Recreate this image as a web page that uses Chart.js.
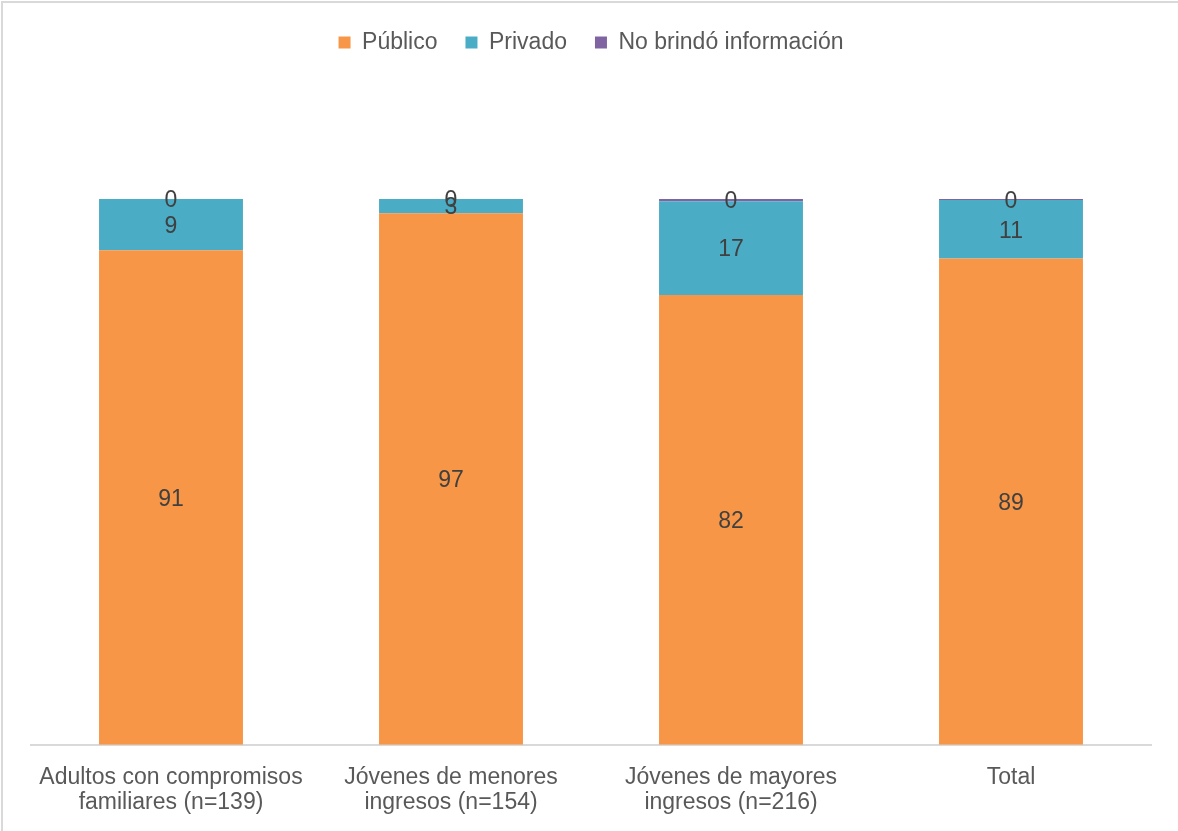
<!DOCTYPE html>
<html>
<head>
<meta charset="utf-8">
<script src="https://cdn.jsdelivr.net/npm/chart.js@4/dist/chart.umd.min.js"></script>
<style>
    body { margin: 0; background: #fff; }
    #frame {
        position: absolute; left: 1px; top: 1px;
        border-left: 2px solid #d9d9d9; border-top: 2px solid #d9d9d9;
    }
    canvas { display: block; }
</style>
</head>
<body>
<div id="frame"><canvas id="chart" width="1175" height="828"></canvas></div>
<script>
const categories = [
    ['Adultos con compromisos', 'familiares (n=139)'],
    ['Jóvenes de menores', 'ingresos (n=154)'],
    ['Jóvenes de mayores', 'ingresos (n=216)'],
    'Total'
];
const publico = [90.6, 97.4, 82.4, 89.1];
const privado = [9.4, 2.6, 17.2, 10.7];
const no_info = [0.0, 0.0, 0.4, 0.2];

const font_family = '"Liberation Sans", Arial, sans-serif';

/**
 * Writes the rounded value in the middle of every bar segment.
 */
const segment_labels = {
    id: 'segment_labels',
    afterDatasetsDraw(chart) {
        const ctx = chart.ctx;
        ctx.save();
        ctx.font = '23px ' + font_family;
        ctx.fillStyle = '#404040';
        ctx.textAlign = 'center';
        ctx.textBaseline = 'middle';
        chart.data.datasets.forEach((ds, i) => {
            chart.getDatasetMeta(i).data.forEach((bar, j) => {
                const p = bar.getCenterPoint();
                ctx.fillText(Math.round(ds.data[j]), p.x, p.y + 2);
            });
        });
        ctx.restore();
    }
};

/**
 * Leaves the empty band between the legend and the bars.
 */
const legend_gap = {
    id: 'legend_gap',
    beforeInit(chart) {
        const fit = chart.legend.fit;
        chart.legend.fit = function () {
            fit.bind(chart.legend)();
            this.height += 135;
        };
    }
};

new Chart(document.getElementById('chart'), {
    type: 'bar',
    data: {
        labels: categories,
        datasets: [
            { label: 'Público', data: publico, backgroundColor: '#F79646' },
            { label: 'Privado', data: privado, backgroundColor: '#4BACC6' },
            { label: 'No brindó información', data: no_info, backgroundColor: '#8064A2' },
        ]
    },
    options: {
        responsive: false,
        animation: false,
        layout: { padding: { left: 28, right: 27, top: 0, bottom: 4 } },
        datasets: { bar: { barPercentage: 0.514, categoryPercentage: 1 } },
        scales: {
            x: {
                stacked: true,
                grid: { display: false },
                border: { color: '#d9d9d9', width: 2 },
                ticks: {
                    color: '#595959',
                    font: { family: font_family, size: 23, lineHeight: 1.09 },
                    maxRotation: 0,
                    padding: 12,
                }
            },
            y: { stacked: true, display: false, min: 0, max: 100 }
        },
        plugins: {
            legend: {
                display: true,
                labels: {
                    color: '#595959',
                    font: { family: font_family, size: 23 },
                    boxWidth: 12,
                    boxHeight: 12,
                    padding: 28,
                }
            },
            tooltip: { enabled: false }
        }
    },
    plugins: [segment_labels, legend_gap]
});
</script>
</body>
</html>
